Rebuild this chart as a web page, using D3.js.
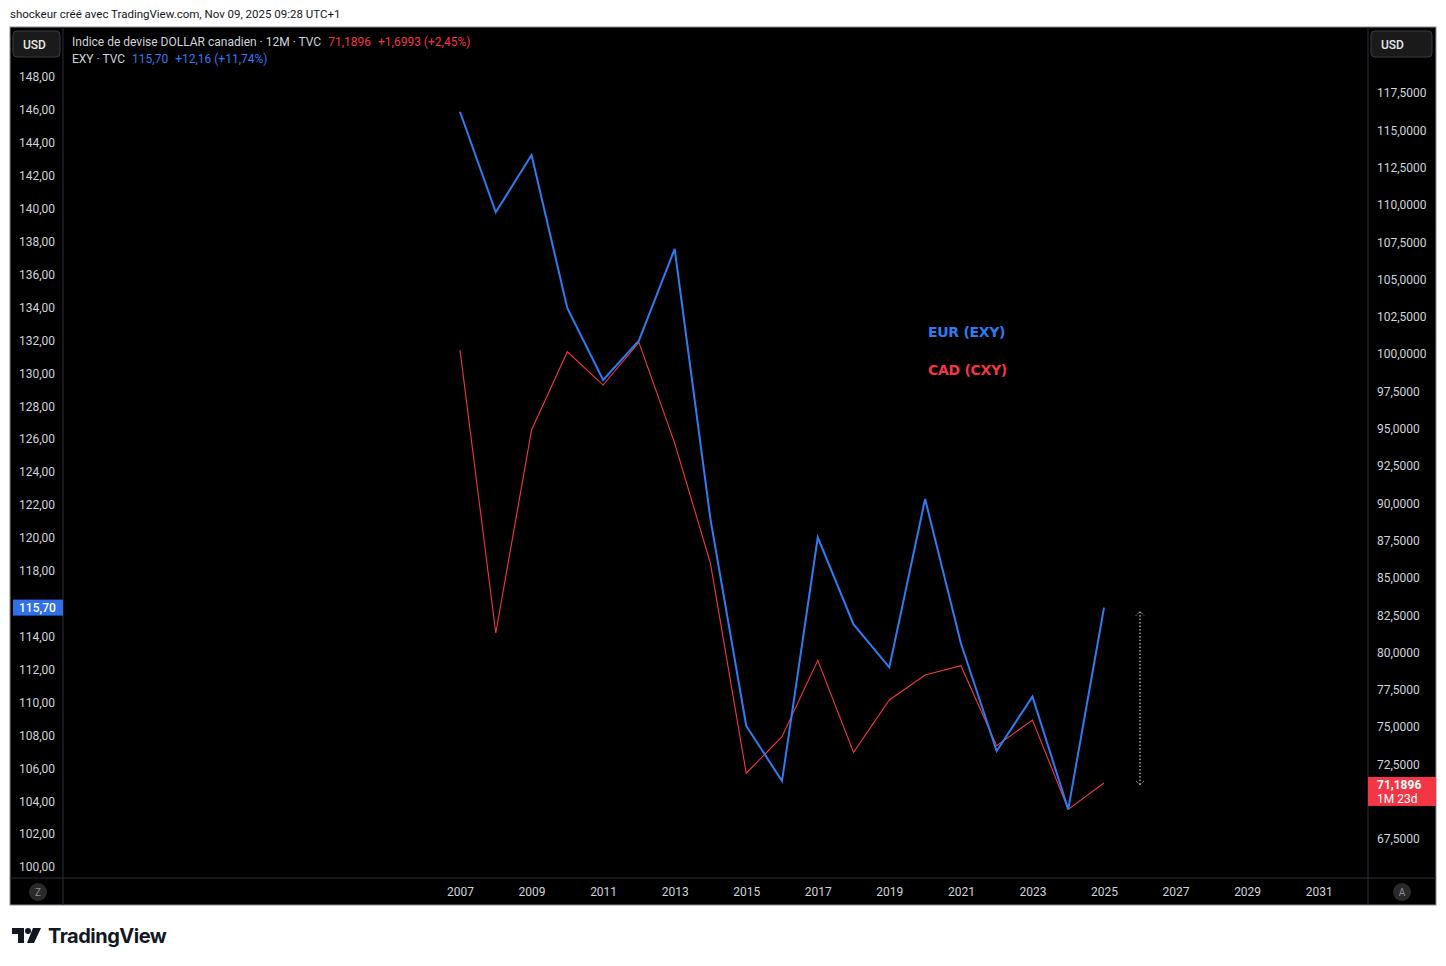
<!DOCTYPE html>
<html>
<head>
<meta charset="utf-8">
<script src="https://cdn.jsdelivr.net/npm/d3@7"></script>
<style>
  html, body { margin: 0; padding: 0; background: #fff; }
  svg { display: block; font-family: Roboto, "Noto Sans", sans-serif; }
</style>
</head>
<body>
<svg id="chart" width="1446" height="966"></svg>
<script>
const width = 1446;
const height = 966;

// yearly closes
const years = [2007, 2008, 2009, 2010, 2011, 2012, 2013, 2014, 2015, 2016,
               2017, 2018, 2019, 2020, 2021, 2022, 2023, 2024, 2025];
const exyValues = [145.83, 139.72, 143.20, 133.89, 129.53, 131.92, 137.49, 121.08, 108.52, 105.16,
                   119.97, 114.68, 112.07, 122.30, 113.53, 106.99, 110.29, 103.44, 115.70];
const cxyValues = [100.21, 81.24, 94.85, 100.09, 97.86, 100.72, 93.97, 85.91, 71.84, 74.29,
                   79.41, 73.24, 76.75, 78.42, 79.05, 73.69, 75.41, 69.42, 71.1896];
const yearTicks = [2007, 2009, 2011, 2013, 2015, 2017, 2019, 2021, 2023, 2025, 2027, 2029, 2031];
const leftTicks = d3.range(100, 148.01, 2);
const rightTicks = d3.range(67.5, 117.51, 2.5);

const blue = "#2f7bf2";
const red = "#f23645";
const textGrey = "#d1d4dc";

const svg = d3.select("#chart");

// frame geometry
const frame = { left: 10, top: 27, right: 1436, bottom: 905 };
const paneLeft = 63, paneRight = 1368, timeAxisY = 878;

const x = d3.scaleLinear().domain([2007, 2025]).range([460, 1104]);
const yLeft = d3.scaleLinear().domain([100, 148]).range([866, 76]);
const yRight = d3.scaleLinear().domain([67.5, 117.5]).range([838, 92]);

const comma = f => v => d3.format(f)(v).replace(".", ",");

// header
svg.append("text").attr("x", 10).attr("y", 18)
  .attr("font-size", 11.5).attr("fill", "#131722")
  .text("shockeur créé avec TradingView.com, Nov 09, 2025 09:28 UTC+1");

svg.append("rect")
  .attr("x", frame.left).attr("y", frame.top)
  .attr("width", frame.right - frame.left).attr("height", frame.bottom - frame.top)
  .attr("fill", "#000").attr("stroke", "#8a8d96").attr("stroke-width", 1);

// pane separators
svg.append("line").attr("x1", paneLeft).attr("x2", paneLeft)
  .attr("y1", frame.top).attr("y2", frame.bottom).attr("stroke", "#2a2e39");
svg.append("line").attr("x1", paneRight).attr("x2", paneRight)
  .attr("y1", frame.top).attr("y2", frame.bottom).attr("stroke", "#2a2e39");
svg.append("line").attr("x1", frame.left).attr("x2", frame.right)
  .attr("y1", timeAxisY).attr("y2", timeAxisY).attr("stroke", "#2a2e39");

// axes
function styleAxis(g) {
  g.select(".domain").remove();
  g.selectAll("line").remove();
  g.selectAll("text").attr("fill", textGrey).attr("font-size", 12)
    .attr("font-family", "Roboto, 'Noto Sans', sans-serif");
}

// the last EXY close badge hides the 116 tick, as on the original chart
const lastExy = exyValues[exyValues.length - 1];
const lastCxy = cxyValues[cxyValues.length - 1];

svg.append("g").attr("transform", `translate(${paneLeft - 8},1)`)
  .call(d3.axisLeft(yLeft).tickValues(leftTicks.filter(v => Math.abs(yLeft(v) - yLeft(lastExy)) > 12))
    .tickFormat(comma(".2f")).tickSize(0).tickPadding(0))
  .call(styleAxis);

svg.append("g").attr("transform", `translate(${paneRight + 9},1)`)
  .call(d3.axisRight(yRight).tickValues(rightTicks.filter(v => Math.abs(yRight(v) - yRight(lastCxy) - 8) > 16))
    .tickFormat(comma(".4f")).tickSize(0).tickPadding(0))
  .call(styleAxis);

svg.append("g").attr("transform", `translate(0,${timeAxisY + 9})`)
  .call(d3.axisBottom(x).tickValues(yearTicks).tickFormat(d3.format("d")).tickSize(0).tickPadding(0))
  .call(styleAxis);

// series
const plot = svg.append("g");
const exyLine = d3.line().x((d, i) => x(years[i])).y(d => yLeft(d));
const cxyLine = d3.line().x((d, i) => x(years[i])).y(d => yRight(d));

plot.append("path").datum(cxyValues).attr("d", cxyLine)
  .attr("fill", "none").attr("stroke", red).attr("stroke-width", 1.1);
plot.append("path").datum(exyValues).attr("d", exyLine)
  .attr("fill", "none").attr("stroke", blue).attr("stroke-width", 2)
  .attr("stroke-linejoin", "miter");

// dotted measure line
const mx = 1140;
const mTop = yLeft(lastExy) + 4;
const mBot = yRight(lastCxy) + 2;
svg.append("line").attr("x1", mx).attr("x2", mx).attr("y1", mTop).attr("y2", mBot)
  .attr("stroke", "#fff").attr("stroke-width", 1).attr("stroke-dasharray", "1.5,2");
svg.append("path").attr("d", `M${mx - 4},${mTop + 4} L${mx},${mTop} L${mx + 4},${mTop + 4}`)
  .attr("fill", "none").attr("stroke", "#cfcfcf").attr("stroke-dasharray", "1,1");
svg.append("path").attr("d", `M${mx - 4},${mBot - 4} L${mx},${mBot} L${mx + 4},${mBot - 4}`)
  .attr("fill", "none").attr("stroke", "#cfcfcf").attr("stroke-dasharray", "1,1");

// in-chart labels
svg.append("text").attr("x", 928).attr("y", 337).attr("font-size", 14).attr("font-weight", 700)
  .attr("fill", blue).attr("font-family", "'DejaVu Sans', sans-serif").attr("letter-spacing", -0.3)
  .text("EUR (EXY)");
svg.append("text").attr("x", 928).attr("y", 375).attr("font-size", 14).attr("font-weight", 700)
  .attr("fill", red).attr("font-family", "'DejaVu Sans', sans-serif").attr("letter-spacing", -0.3)
  .text("CAD (CXY)");

// price badges
const bY = yLeft(lastExy);
svg.append("rect").attr("x", 13).attr("y", bY - 8).attr("width", paneLeft - 13).attr("height", 16)
  .attr("fill", "#2f6fe8");
svg.append("text").attr("x", 19).attr("y", bY + 4.5).attr("font-size", 12).attr("font-weight", 500)
  .attr("fill", "#fff").text(comma(".2f")(lastExy));

const rY = yRight(lastCxy);
svg.append("rect").attr("x", paneRight).attr("y", rY - 6).attr("width", frame.right - paneRight).attr("height", 29)
  .attr("fill", red);
svg.append("text").attr("x", 1377).attr("y", rY + 6).attr("font-size", 12).attr("font-weight", 700)
  .attr("fill", "#fff").text(comma(".4f")(lastCxy));
svg.append("text").attr("x", 1377).attr("y", rY + 20).attr("font-size", 12)
  .attr("fill", "#fff").text("1M 23d");

// USD buttons
function button(x0, w) {
  svg.append("rect").attr("x", x0).attr("y", 31).attr("width", w).attr("height", 26).attr("rx", 4)
    .attr("fill", "#1a1a1a").attr("stroke", "#3a3d45");
  svg.append("text").attr("x", x0 + 10).attr("y", 48.5).attr("font-size", 12).attr("font-weight", 500)
    .attr("fill", "#e8e8e8").text("USD");
}
button(13, 47);
button(1371, 61);

// corner circles
[[38, "Z"], [1402, "A"]].forEach(([cx, t]) => {
  svg.append("circle").attr("cx", cx).attr("cy", 892).attr("r", 9).attr("fill", "#2a2a2a");
  svg.append("text").attr("x", cx).attr("y", 896).attr("text-anchor", "middle")
    .attr("font-size", 10).attr("fill", "#8a8d96").text(t);
});

// legend
const legend = [
  { y: 46, parts: [["Indice de devise DOLLAR canadien · 12M · TVC", textGrey], ["71,1896", red], ["+1,6993 (+2,45%)", red]] },
  { y: 63, parts: [["EXY · TVC", textGrey], ["115,70", blue], ["+12,16 (+11,74%)", blue]] }
];
legend.forEach(row => {
  const t = svg.append("text").attr("x", 72).attr("y", row.y).attr("font-size", 12)
    .attr("font-family", "Roboto, 'Noto Sans', sans-serif");
  row.parts.forEach((p, i) => {
    t.append("tspan").attr("dx", i === 0 ? 0 : 7).attr("fill", p[1]).text(p[0]);
  });
});

// TradingView logo
const logo = svg.append("g").attr("transform", "translate(12,928)");
logo.append("path").attr("d", "M0,0 H12 V15 H6 V6 H0 Z").attr("fill", "#131722");
logo.append("circle").attr("cx", 16).attr("cy", 3).attr("r", 3).attr("fill", "#131722");
logo.append("path").attr("d", "M21,0 H29 L22,15 H15 Z").attr("fill", "#131722");
svg.append("text").attr("x", 48).attr("y", 943).attr("font-size", 20).attr("font-weight", 700)
  .attr("fill", "#131722").attr("font-family", "Inter, Lato, sans-serif").attr("letter-spacing", -0.5)
  .text("TradingView");
</script>
</body>
</html>
